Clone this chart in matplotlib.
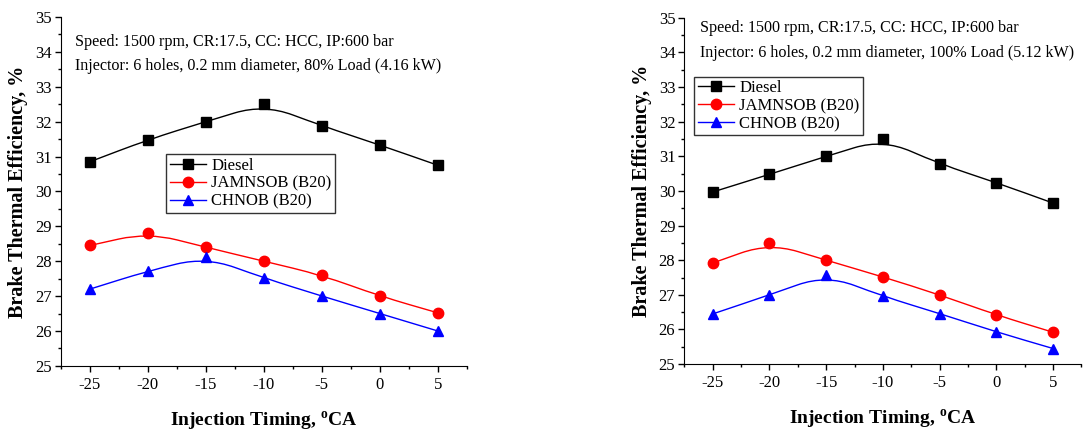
import numpy as np
import matplotlib
matplotlib.use('Agg')
import matplotlib.pyplot as plt
from matplotlib.path import Path
from matplotlib.patches import PathPatch
from matplotlib.lines import Line2D
from matplotlib.ticker import MultipleLocator

# %% data
timing = [-25, -20, -15, -10, -5, 0, 5]

# 80% load (4.16 kW)
diesel_80 = [30.85, 31.48, 32.0, 32.5, 31.88, 31.33, 30.75]
jamnsob_80 = [28.45, 28.82, 28.4, 28.0, 27.6, 27.0, 26.52]
chnob_80 = [27.2, 27.72, 28.12, 27.52, 27.0, 26.5, 26.0]

# 100% load (5.12 kW)
diesel_100 = [29.97, 30.48, 31.0, 31.5, 30.78, 30.24, 29.65]
jamnsob_100 = [27.92, 28.5, 28.0, 27.52, 27.0, 26.42, 25.92]
chnob_100 = [26.45, 27.0, 27.58, 26.96, 26.46, 25.93, 25.45]

labels = ['Diesel', 'JAMNSOB (B20)', 'CHNOB (B20)']
notes_80 = ['Speed: 1500 rpm, CR:17.5, CC: HCC, IP:600 bar',
            'Injector: 6 holes, 0.2 mm diameter, 80% Load (4.16 kW)']
notes_100 = ['Speed: 1500 rpm, CR:17.5, CC: HCC, IP:600 bar',
             'Injector: 6 holes, 0.2 mm diameter, 100% Load (5.12 kW)']

# %% style
plt.rcParams['font.family'] = 'Liberation Serif'
plt.rcParams['mathtext.fontset'] = 'custom'
plt.rcParams['mathtext.rm'] = 'Liberation Serif'
plt.rcParams['mathtext.bf'] = 'Liberation Serif:bold'
plt.rcParams['axes.unicode_minus'] = False

colors = ['black', 'red', 'blue']
markers = ['s', 'o', '^']
msizes = [6.5, 7.5, 7.5]


def bspline(ax, x, y, color):
    # quadratic B-spline through the data points (Origin-like smoothing)
    pts = np.column_stack([x, y]).astype(float)
    verts = [pts[0], (pts[0] + pts[1]) / 2]
    codes = [Path.MOVETO, Path.LINETO]
    for i in range(1, len(pts) - 1):
        mid = (pts[i] + pts[i + 1]) / 2
        verts += [pts[i], mid]
        codes += [Path.CURVE3, Path.CURVE3]
    verts.append(pts[-1])
    codes.append(Path.LINETO)
    ax.add_patch(PathPatch(Path(verts, codes), fill=False,
                           edgecolor=color, lw=1.0, zorder=2))


def panel(ax, series, notes, note_pos, legend_loc):
    for ys, c, m, ms in zip(series, colors, markers, msizes):
        bspline(ax, timing, ys, c)
        ax.plot(timing, ys, ls='none', marker=m, color=c, ms=ms, zorder=3)

    ax.set_xlim(-27.5, 7.5)
    ax.set_ylim(25, 35)
    ax.set_xticks(timing)
    ax.set_yticks(np.arange(25, 36, 1))
    ax.xaxis.set_minor_locator(MultipleLocator(2.5))
    ax.yaxis.set_minor_locator(MultipleLocator(0.5))
    ax.tick_params(which='both', direction='out', labelsize=12, width=1)
    ax.tick_params(which='major', length=4.5)
    ax.tick_params(which='minor', length=2.5)
    ax.tick_params(axis='y', pad=2)
    ax.spines['right'].set_visible(False)
    ax.spines['top'].set_visible(False)

    ax.set_ylabel('Brake Thermal Efficiency, %', fontsize=14.5,
                  fontweight='bold', labelpad=5)
    ax.set_xlabel(r'Injection Timing, $^{\mathbf{o}}$CA', fontsize=14,
                  fontweight='bold', labelpad=12)

    x0, y0, y1 = note_pos
    ax.text(x0, y0, notes[0], fontsize=11.6, va='center')
    ax.text(x0, y1, notes[1], fontsize=11.6, va='center')

    handles = [Line2D([], [], color=c, marker=m, ms=ms, lw=1.0)
               for c, m, ms in zip(colors, markers, msizes)]
    leg = ax.legend(handles, labels, loc='upper left',
                    bbox_to_anchor=legend_loc, fontsize=12, frameon=True,
                    fancybox=False, edgecolor='black', handlelength=2.2,
                    handletextpad=0.3, borderpad=0.2, labelspacing=0.12,
                    borderaxespad=0)
    leg.get_frame().set_linewidth(1.0)


# %% figure
fig = plt.figure(figsize=(10.88, 4.34), dpi=100)
ax1 = fig.add_axes([0.056, 0.157, 0.373, 0.804])
ax2 = fig.add_axes([0.629, 0.161, 0.365, 0.798])

panel(ax1, [diesel_80, jamnsob_80, chnob_80], notes_80,
      (-26.3, 34.28, 33.6), (0.26, 0.606))
panel(ax2, [diesel_100, jamnsob_100, chnob_100], notes_100,
      (-26.1, 34.71, 33.99), (0.025, 0.83))

plt.savefig('out.png', dpi=100)
